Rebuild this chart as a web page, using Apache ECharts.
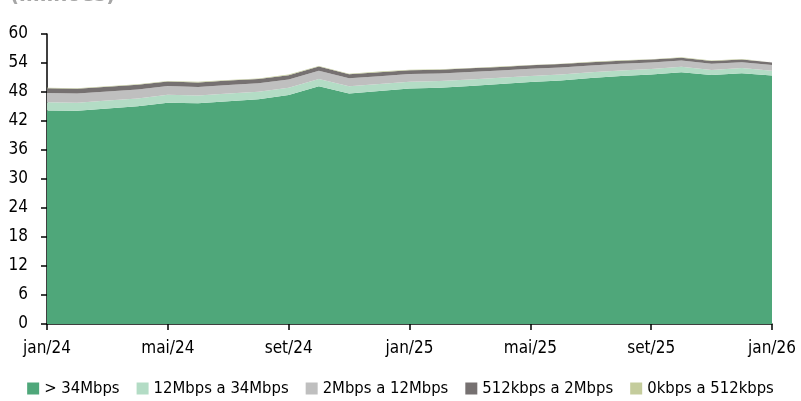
<!DOCTYPE html>
<html>
<head>
<meta charset="utf-8">
<script src="https://cdn.jsdelivr.net/npm/echarts@6/dist/echarts.min.js"></script>
<style>html,body{margin:0;padding:0;background:#fff}#c{width:801px;height:401px}</style>
</head>
<body>
<div id="c"></div>
<script>
const categories = ['jan/24','fev/24','mar/24','abr/24','mai/24','jun/24','jul/24','ago/24','set/24','out/24','nov/24','dez/24',
  'jan/25','fev/25','mar/25','abr/25','mai/25','jun/25','jul/25','ago/25','set/25','out/25','nov/25','dez/25','jan/26'];
const above34 = [44.18,44.12,44.58,45.04,45.8,45.66,46.1,46.5,47.37,49.2,47.7,48.2,48.7,48.9,49.25,49.65,50.05,50.4,50.9,51.3,51.6,52.1,51.5,51.9,51.4];
const s12to34 = [1.7,1.68,1.66,1.64,1.62,1.6,1.58,1.55,1.52,1.5,1.47,1.44,1.4,1.37,1.34,1.3,1.27,1.24,1.2,1.17,1.14,1.1,1.07,1.04,1.0];
const s2to12 = [1.9,1.88,1.86,1.84,1.82,1.8,1.78,1.75,1.72,1.7,1.67,1.64,1.6,1.57,1.54,1.5,1.47,1.44,1.4,1.37,1.34,1.3,1.27,1.24,1.2];
const s512to2 = [1.0,1.0,0.98,0.96,0.95,0.93,0.92,0.9,0.88,0.87,0.85,0.83,0.8,0.78,0.76,0.74,0.72,0.7,0.68,0.65,0.62,0.6,0.58,0.55,0.52];
const s0to512 = [0.12,0.12,0.12,0.12,0.11,0.11,0.11,0.11,0.11,0.11,0.11,0.11,0.1,0.1,0.1,0.1,0.1,0.09,0.09,0.09,0.09,0.09,0.08,0.08,0.08];
const names = ['> 34Mbps','12Mbps a 34Mbps','2Mbps a 12Mbps','512kbps a 2Mbps','0kbps a 512kbps'];
const colors = ['#4fa77a','#b3dcc5','#bfbfbf','#767171','#c4cc9c'];
const values = [above34, s12to34, s2to12, s512to2, s0to512];
const FONT = '"DejaVu Sans Condensed","DejaVu Sans",sans-serif';
const TS = {fontFamily: FONT, fontStyle: 'condensed', color: '#000'};

const chart = echarts.init(document.getElementById('c'));
chart.setOption({
  animation: false,
  textStyle: {fontFamily: FONT},
  color: colors,
  graphic: [{type:'text', left: 10, top: -16, style:{text:'(milhões)', fill:'#a6a6a6', font:'condensed bold 22px ' + FONT}}],
  grid: {left: 47, right: 29, top: 34, bottom: 77, containLabel: false},
  legend: {
    bottom: -1, left: 'center', itemWidth: 12, itemHeight: 12, itemGap: 17, icon: 'rect',
    textStyle: Object.assign({fontSize: 16.5}, TS),
    data: names
  },
  xAxis: {
    type: 'category', data: categories, boundaryGap: false,
    axisLine: {lineStyle: {color: '#000', width: 1.5}},
    axisTick: {interval: 3, length: 6, lineStyle: {color: '#000', width: 1.5}},
    axisLabel: Object.assign({interval: 3, fontSize: 17, margin: 16}, TS),
    splitLine: {show: false}
  },
  yAxis: {
    type: 'value', min: 0, max: 60, interval: 6,
    axisLine: {show: true, lineStyle: {color: '#000', width: 1.5}},
    axisTick: {show: true, length: 6, lineStyle: {color: '#000', width: 1.5}},
    axisLabel: Object.assign({fontSize: 17, margin: 19}, TS),
    splitLine: {show: false}
  },
  series: values.map((v, i) => ({
    name: names[i], type: 'line', stack: 'total', data: v,
    symbol: 'none', lineStyle: {width: 0}, areaStyle: {color: colors[i], opacity: 1},
    itemStyle: {color: colors[i]}, z: 2
  }))
});
</script>
</body>
</html>
